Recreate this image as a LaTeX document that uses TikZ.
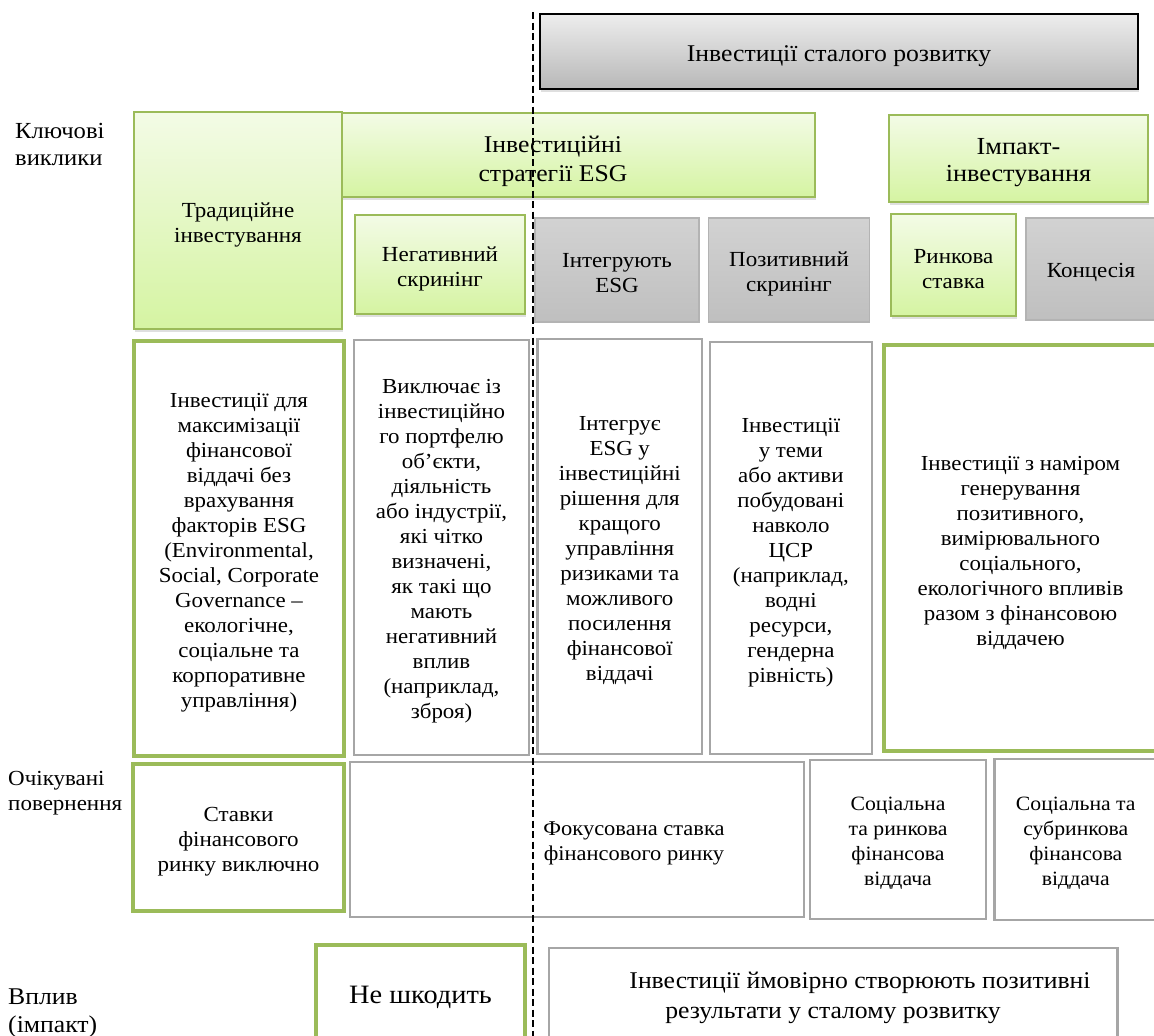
\documentclass[tikz,border=0pt]{standalone}
\usepackage{fontspec}
\setmainfont{Liberation Serif}[FakeStretch=1.07]
\usetikzlibrary{shadows}
\definecolor{grn}{HTML}{9BBB59}
\definecolor{grntop}{HTML}{F3FBE6}
\definecolor{grnbot}{HTML}{D5F4A2}
\definecolor{gbord}{HTML}{A6A6A6}
\definecolor{graytop}{HTML}{D2D2D2}
\definecolor{graybot}{HTML}{BFBFBF}
\newcommand{\fsz}[2]{\fontsize{#1}{#2}\selectfont}
\tikzset{
  box/.style={rectangle, inner sep=0pt},
  greenbox/.style={box, draw=grn, line width=1.6pt, top color=grntop, bottom color=grnbot,
    drop shadow={opacity=0.25, shadow xshift=1pt, shadow yshift=-3pt}},
  graybox/.style={box, draw=gbord!85, line width=1.2pt, top color=graytop, bottom color=graybot},
  topbox/.style={box, draw=black, line width=1.5pt, top color=white!93!black, bottom color=white!72!black,
    drop shadow={opacity=0.25, shadow xshift=1pt, shadow yshift=-3pt}},
  outgreen/.style={box, draw=grn, line width=4.5pt, fill=white},
  outgray/.style={box, draw=gbord, line width=2.4pt, fill=white},
  lbl/.style={inner sep=0pt, align=left},
  txt/.style={inner sep=0pt, align=center},
  dashline/.style={draw=black, line width=1.3pt, dash pattern=on 7pt off 3.5pt},
}
\begin{document}
\begin{tikzpicture}[x=1pt,y=-1pt]
\useasboundingbox[fill=white] (0,0) rectangle (1154,1036);

% left labels
\node[lbl, anchor=west, font=\fsz{23}{27}] (kv) at (15,144) {Ключові\\виклики};
\node[lbl, anchor=west, font=\fsz{21.5}{25}] (oc) at (8,793) {Очікувані\\повернення};
\node[lbl, anchor=west, font=\fsz{24}{28}] (vp) at (8,1013) {Вплив\\(імпакт)};

% top row
\node[topbox, minimum width=598pt, minimum height=75pt] (sust) at (839,51.5) {};
\node[txt, font=\fsz{24}{28}] (sustT) at ([yshift=-4.5pt]sust.center) {Інвестиції сталого розвитку};
\node[greenbox, minimum width=473pt, minimum height=84pt] (esg) at (578.5,155) {};
\node[txt, font=\fsz{24}{29}] (esgT) at (553,161) {Інвестиційні\\стратегії ESG};
\node[greenbox, minimum width=208pt, minimum height=217pt] (trad) at (238,220.5) {};
\node[txt, font=\fsz{21.5}{25}] (tradT) at ([yshift=-4.5pt]trad.center) {Традиційне\\інвестування};
\node[greenbox, minimum width=259pt, minimum height=87pt] (imp) at (1018.5,158.5) {};
\node[txt, font=\fsz{24.5}{27}] (impT) at ([yshift=-4.5pt]imp.center) {Імпакт-\\інвестування};

\node[greenbox, minimum width=170pt, minimum height=99pt] (neg) at (440,264.5) {};
\node[txt, font=\fsz{21.5}{25}] (negT) at ([yshift=-4pt]neg.center) {Негативний\\скринінг};
\node[graybox, minimum width=164pt, minimum height=104pt] (integ) at (617,270) {};
\node[txt, font=\fsz{21.5}{25}] (integT) at ([yshift=-3pt]integ.center) {Інтегрують\\ESG};
\node[graybox, minimum width=161pt, minimum height=104pt] (pos) at (789,270) {};
\node[txt, font=\fsz{21.5}{25}] (posT) at ([yshift=-3.5pt]pos.center) {Позитивний\\скринінг};
\node[greenbox, minimum width=125pt, minimum height=102pt] (mkt) at (953.5,265) {};
\node[txt, font=\fsz{21.5}{25}] (mktT) at ([yshift=-4pt]mkt.center) {Ринкова\\ставка};
\node[graybox, minimum width=130pt, minimum height=102pt] (conc) at (1091,269) {};
\node[txt, font=\fsz{21.5}{25}] (concT) at ([yshift=-3pt]conc.center) {Концесія};

% description row
\node[outgreen, minimum width=210pt, minimum height=415pt] (tradd) at (239,548.5) {};
\node[txt, font=\fsz{21.4}{25}] (traddT) at ([yshift=-4.5pt]tradd.center)
  {Інвестиції для\\максимізації\\фінансової\\віддачі без\\врахування\\факторів ESG\\(Environmental,\\Social, Corporate\\Governance –\\екологічне,\\соціальне та\\корпоративне\\управління)};
\node[outgray, minimum width=175pt, minimum height=415pt] (negd) at (441.5,547.5) {};
\node[txt, font=\fsz{21.4}{25}] (negdT) at ([yshift=-4pt]negd.center)
  {Виключає із\\інвестиційно\\го портфелю\\об’єкти,\\діяльність\\або індустрії,\\які чітко\\визначені,\\як такі що\\мають\\негативний\\вплив\\(наприклад,\\зброя)};
\node[outgray, minimum width=164.5pt, minimum height=415pt] (integd) at (619.75,546.5) {};
\node[txt, font=\fsz{21.4}{25}] (integdT) at ([yshift=-4.5pt]integd.center)
  {Інтегрує\\ESG у\\інвестиційні\\рішення для\\кращого\\управління\\ризиками та\\можливого\\посилення\\фінансової\\віддачі};
\node[outgray, minimum width=162.3pt, minimum height=412pt] (posd) at (790.85,548) {};
\node[txt, font=\fsz{21.4}{25}] (posdT) at ([yshift=-4.5pt]posd.center)
  {Інвестиції\\у теми\\або активи\\побудовані\\навколо\\ЦСР\\(наприклад,\\водні\\ресурси,\\гендерна\\рівність)};
\node[outgreen, minimum width=273pt, minimum height=406pt] (impd) at (1020.5,548) {};
\node[txt, font=\fsz{21.4}{25}] (impdT) at ([yshift=-4.5pt]impd.center)
  {Інвестиції з наміром\\генерування\\позитивного,\\вимірювального\\соціального,\\екологічного впливів\\разом з фінансовою\\віддачею};

% returns row
\node[outgreen, minimum width=211pt, minimum height=147pt] (tradr) at (238.5,837.5) {};
\node[txt, font=\fsz{21.5}{25}] (tradrT) at ([yshift=-4.5pt]tradr.center) {Ставки\\фінансового\\ринку виключно};
\node[outgray, minimum width=454pt, minimum height=155pt] (focus) at (577,839.5) {};
\node[txt, font=\fsz{21}{25}] (focusT) at (634,843) {Фокусована ставка\\фінансового ринку};
\node[outgray, minimum width=176pt, minimum height=159pt] (socm) at (898,839.5) {};
\node[txt, font=\fsz{20.3}{25}] (socmT) at ([yshift=-4pt]socm.center) {Соціальна\\та ринкова\\фінансова\\віддача};
\node[outgray, minimum width=162.4pt, minimum height=161pt] (socs) at (1075.8,839.5) {};
\node[txt, font=\fsz{20.3}{25}] (socsT) at ([yshift=-4pt]socs.center) {Соціальна та\\субринкова\\фінансова\\віддача};

% impact row
\node[outgreen, minimum width=209pt, minimum height=100pt] (noharm) at (420.5,995) {};
\node[txt, font=\fsz{26.5}{30}] (noharmT) at ([yshift=-2pt]noharm.center) {Не шкодить};
\node[outgray, minimum width=568.5pt, minimum height=97pt] (impres) at (833.25,996.5) {};
\node[txt, font=\fsz{24}{30}] (impresT) at (860,998)
  {Інвестиції ймовірно створюють позитивні\\результати у сталому розвитку\hspace*{54pt}};

% dashed divider
\coordinate (dtop) at (533,12);
\coordinate (dbot) at (533,1040);
\draw[dashline] (dtop) -- (dbot);
\end{tikzpicture}
\end{document}
